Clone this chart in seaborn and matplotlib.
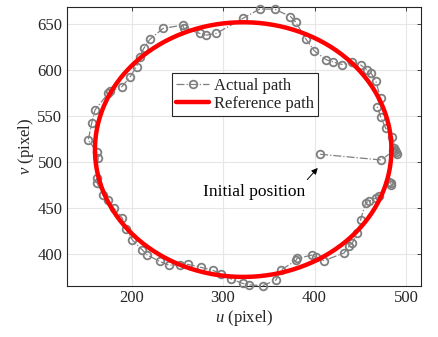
import numpy as np
import pandas as pd
import matplotlib
matplotlib.use("Agg")
import matplotlib.pyplot as plt
import seaborn as sns
from matplotlib.lines import Line2D

# Measured robot positions (pixel coordinates), in travel order
u_actual = [406.1, 472.9, 486.0, 488.2, 489.3, 487.1, 490.4, 484.9, 477.6, 472.2,
            468.6, 472.2, 467.0, 461.7, 457.7, 450.6, 441.3, 430.4, 420.6, 412.4,
            399.9, 390.6, 379.2, 373.7, 356.3, 339.9, 321.7, 292.7, 281.8, 274.5,
            257.0, 255.9, 234.5, 220.0, 213.4, 209.1, 205.5, 198.1, 189.1, 176.3,
            174.5, 160.0, 156.4, 152.7, 161.8, 163.6, 161.8, 162.2, 169.0, 174.2,
            180.7, 190.0, 193.8, 200.9, 211.8, 217.2, 230.9, 240.7, 252.7, 261.7,
            276.3, 289.0, 297.9, 308.8, 321.4, 328.8, 343.4, 357.9, 363.4, 379.7,
            380.8, 397.2, 401.5, 410.5, 432.3, 437.7, 441.3, 446.8, 450.4, 455.8,
            459.5, 467.2, 470.4, 481.7, 483.1, 483.9]
v_actual = [508.4, 502.2, 511.9, 513.0, 510.9, 515.2, 508.7, 527.5, 536.9, 549.2,
            559.8, 569.2, 588.0, 596.7, 600.0, 605.4, 608.7, 606.0, 608.7, 611.4,
            620.7, 633.7, 652.5, 658.2, 666.3, 666.3, 656.2, 639.9, 638.0, 639.9,
            645.7, 648.9, 645.3, 633.4, 623.6, 614.5, 603.6, 592.1, 581.5, 577.2,
            574.7, 556.5, 542.1, 523.9, 511.2, 504.0, 482.3, 477.5, 464.1, 458.7,
            449.7, 438.8, 427.2, 415.2, 404.3, 398.8, 391.8, 387.8, 388.0, 388.6,
            385.3, 382.1, 378.3, 372.8, 367.9, 366.3, 365.5, 371.7, 382.6, 392.9,
            395.1, 398.7, 396.7, 392.7, 401.1, 408.4, 411.9, 422.8, 437.3, 455.4,
            457.3, 460.9, 462.5, 478.3, 477.2, 475.0]

# Reference ellipse parameters
ref_center = (322.0, 513.5)
ref_radius = (162.0, 138.5)

initial_pos = (403.5, 493.5)
initial_label = "Initial position"

x_ticks = [200, 300, 400, 500]
y_ticks = [400, 450, 500, 550, 600, 650]

sns.set_theme(style="whitegrid")
plt.rcParams["font.family"] = ["Liberation Serif", "DejaVu Serif"]
plt.rcParams["mathtext.fontset"] = "custom"
plt.rcParams["mathtext.it"] = "Liberation Serif:italic"
plt.rcParams["mathtext.rm"] = "Liberation Serif"

t = np.linspace(0, 2 * np.pi, 400)
ref = pd.DataFrame({"u": ref_center[0] + ref_radius[0] * np.cos(t),
                    "v": ref_center[1] + ref_radius[1] * np.sin(t)})
act = pd.DataFrame({"u": u_actual, "v": v_actual})

fig = plt.figure(figsize=(4.38, 3.37), dpi=100)
ax = fig.add_axes([0.152, 0.151, 0.8085, 0.828])

gray = "#7f7f7f"
sns.lineplot(data=act, x="u", y="v", sort=False, estimator=None, ax=ax,
             color=gray, linestyle="-.", linewidth=0.9, marker="o",
             markersize=5.5, markerfacecolor="none", markeredgecolor=gray,
             markeredgewidth=1.3, zorder=3, clip_on=False)
sns.lineplot(data=ref, x="u", y="v", sort=False, estimator=None, ax=ax,
             color="#ff0000", linewidth=3.2, zorder=4)

ax.set_xlim(129, 516)
ax.set_ylim(365, 668.5)
ax.set_xticks(x_ticks)
ax.set_yticks(y_ticks)
ax.grid(True, color="#e6e6e6", linewidth=0.8)
ax.set_facecolor("white")
for s in ax.spines.values():
    s.set_color("#262626")
    s.set_linewidth(0.8)
ax.tick_params(direction="in", length=3, width=0.6, colors="#262626",
               labelsize=12, top=True, right=True, pad=3,
               labeltop=False, labelright=False)
for lab in ax.get_xticklabels() + ax.get_yticklabels():
    lab.set_color("#262626")

ax.set_xlabel("$u$ (pixel)", fontsize=12, color="#262626", labelpad=1)
ax.set_ylabel("$v$ (pixel)", fontsize=12, color="#262626", labelpad=1)

ax.annotate(initial_label, xy=initial_pos, xytext=(334.5, 467.5),
            ha="center", va="center", fontsize=12.5, color="black",
            arrowprops=dict(arrowstyle="-|>", color="black", lw=0.7,
                            mutation_scale=9, relpos=(0.97, 0.95),
                            shrinkA=1, shrinkB=0))

handles = [Line2D([], [], color=gray, linestyle="-.", linewidth=0.9, marker="o",
                  markersize=5.5, markerfacecolor="none", markeredgecolor=gray,
                  markeredgewidth=1.3),
           Line2D([], [], color="#ff0000", linewidth=3.2)]
leg = ax.legend(handles, ["Actual path", "Reference path"], loc="upper left",
                bbox_to_anchor=(0.297, 0.762), fontsize=12, frameon=True,
                fancybox=False, edgecolor="#262626", framealpha=1,
                handlelength=2.0, handletextpad=0.3, borderpad=0.25,
                labelspacing=0.15, borderaxespad=0)
leg.get_frame().set_linewidth(0.8)

fig.savefig("out.png", dpi=100)
